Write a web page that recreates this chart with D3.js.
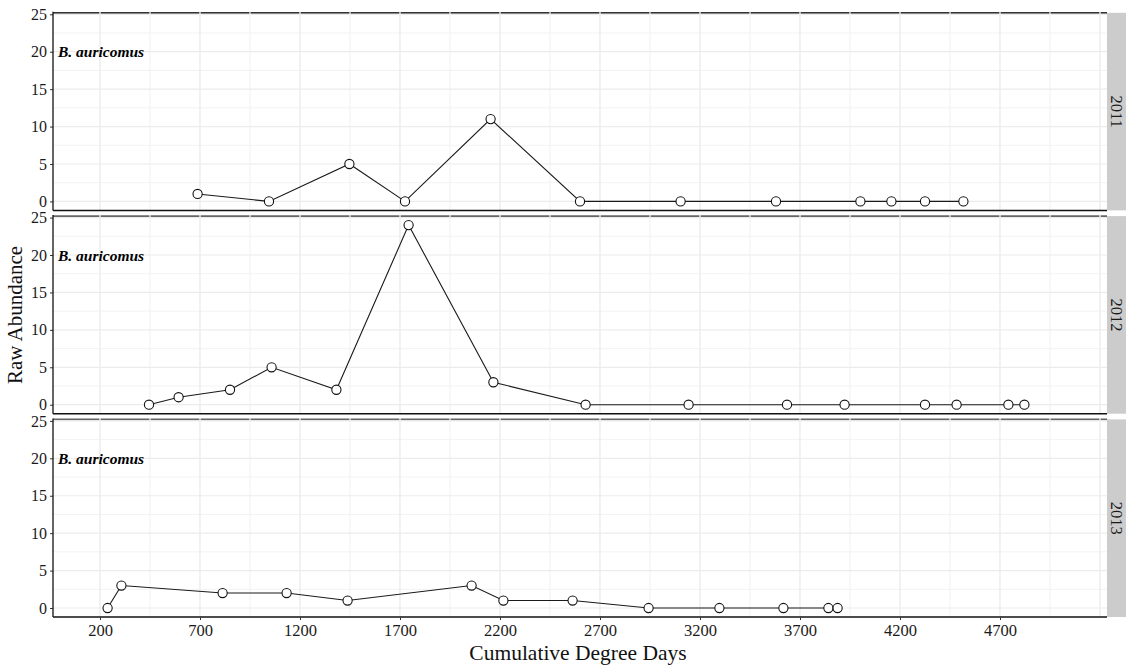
<!DOCTYPE html>
<html><head><meta charset="utf-8">
<script src="https://cdn.jsdelivr.net/npm/d3@7"></script>
<style>body{margin:0;background:#fff;} svg{display:block;font-family:"Liberation Serif","Times New Roman",serif;}</style>
</head><body>
<svg id="chart" width="1126" height="669"></svg>
<script>
const years = ["2011", "2012", "2013"];
const speciesLabel = "B. auricomus";
const dd2011 = [688, 1045, 1447, 1725, 2153, 2600, 3103, 3580, 4002, 4157, 4325, 4517];
const ab2011 = [1, 0, 5, 0, 11, 0, 0, 0, 0, 0, 0, 0];
const dd2012 = [445, 593, 850, 1058, 1382, 1743, 2167, 2628, 3143, 3635, 3923, 4325, 4483, 4742, 4822];
const ab2012 = [0, 1, 2, 5, 2, 24, 3, 0, 0, 0, 0, 0, 0, 0, 0];
const dd2013 = [238, 307, 813, 1133, 1438, 2058, 2217, 2563, 2943, 3297, 3617, 3842, 3888];
const ab2013 = [0, 3, 2, 2, 1, 3, 1, 1, 0, 0, 0, 0, 0];
const xTicks = [200, 700, 1200, 1700, 2200, 2700, 3200, 3700, 4200, 4700];
const xMajorGrid = [200, 700, 1200, 1700, 2200, 2700, 3200, 3700, 4200, 4700, 5200];
const xMinorGrid = [450, 950, 1450, 1950, 2450, 2950, 3450, 3950, 4450, 4950];
const yTicks = [0, 5, 10, 15, 20, 25];
const yMinorGrid = [2.5, 7.5, 12.5, 17.5, 22.5];
const xTitle = "Cumulative Degree Days";
const yTitle = "Raw Abundance";

const series = [
  {year: years[0], dd: dd2011, ab: ab2011},
  {year: years[1], dd: dd2012, ab: ab2012},
  {year: years[2], dd: dd2013, ab: ab2013}
];

const svg = d3.select("#chart");
const left = 53, right = 1107, stripRight = 1126;
const panelTop0 = 12.8, panelH = 197.6, panelStep = 203.3;

const x = d3.scaleLinear().domain([-35, 5235]).range([left, right]);

series.forEach((s, i) => {
  const top = panelTop0 + i * panelStep;
  const bottom = top + panelH;
  const y = d3.scaleLinear().domain([-1.2, 25.2]).range([bottom, top]);
  const g = svg.append("g");

  g.append("line").attr("x1", left).attr("x2", right).attr("y1", top).attr("y2", top)
    .attr("stroke", i === 0 ? "#333" : "#666").attr("stroke-width", 1.8);

  g.selectAll(".ymin").data(yMinorGrid).join("line")
    .attr("x1", left).attr("x2", right).attr("y1", d => y(d)).attr("y2", d => y(d))
    .attr("stroke", "#f3f3f3").attr("stroke-width", 1);
  g.selectAll(".xmin").data(xMinorGrid).join("line")
    .attr("x1", d => x(d)).attr("x2", d => x(d)).attr("y1", top - 1.5).attr("y2", bottom)
    .attr("stroke", "#f3f3f3").attr("stroke-width", 1.2);
  g.selectAll(".ymaj").data(yTicks).join("line")
    .attr("x1", left).attr("x2", right).attr("y1", d => y(d)).attr("y2", d => y(d))
    .attr("stroke", "#ececec").attr("stroke-width", 1.2);
  g.selectAll(".xmaj").data(xMajorGrid).join("line")
    .attr("x1", d => x(d)).attr("x2", d => x(d)).attr("y1", top - 1.5).attr("y2", bottom)
    .attr("stroke", "#ececec").attr("stroke-width", 1.4);

  const yAxis = d3.axisLeft(y).tickValues(yTicks).tickSize(3).tickPadding(3).tickFormat(d3.format("d"));
  const ya = g.append("g").attr("transform", `translate(${left},0)`).call(yAxis);
  ya.select(".domain").remove();
  ya.selectAll(".tick line").attr("stroke", "#333");
  ya.selectAll(".tick text").attr("font-size", 16).attr("fill", "#1a1a1a")
    .attr("font-family", "Liberation Serif, serif");
  g.append("line").attr("x1", left).attr("x2", left).attr("y1", top - 1).attr("y2", bottom)
    .attr("stroke", "#111").attr("stroke-width", 1.3);

  g.append("line").attr("x1", left).attr("x2", right).attr("y1", bottom).attr("y2", bottom)
    .attr("stroke", "#111").attr("stroke-width", 1.5);

  if (i === series.length - 1) {
    const xAxis = d3.axisBottom(x).tickValues(xTicks).tickSize(3).tickPadding(4).tickFormat(d3.format("d"));
    const xa = g.append("g").attr("transform", `translate(0,${bottom})`).call(xAxis);
    xa.select(".domain").remove();
    xa.selectAll(".tick line").attr("stroke", "#333");
    xa.selectAll(".tick text").attr("font-size", 16.5).attr("fill", "#1a1a1a")
      .attr("font-family", "Liberation Serif, serif");
  }

  g.append("rect").attr("x", right).attr("y", top).attr("width", stripRight - right).attr("height", panelH)
    .attr("fill", "#cccccc");
  const sy = (top + bottom) / 2;
  g.append("text").attr("transform", `translate(${(right + stripRight) / 2},${sy}) rotate(90)`)
    .attr("text-anchor", "middle").attr("dominant-baseline", "central")
    .attr("font-size", 16.5).attr("fill", "#1a1a1a").text(s.year);

  g.append("text").attr("x", x(-10)).attr("y", y(20)).attr("dominant-baseline", "central")
    .attr("font-size", 15.5).attr("font-style", "italic").attr("font-weight", "bold")
    .attr("fill", "#000").text(speciesLabel);

  const pts = s.dd.map((d, k) => [d, s.ab[k]]);
  const line = d3.line().x(d => x(d[0])).y(d => y(d[1]));
  g.append("path").attr("d", line(pts)).attr("fill", "none").attr("stroke", "#1a1a1a").attr("stroke-width", 1.1);
  g.selectAll("circle").data(pts).join("circle")
    .attr("cx", d => x(d[0])).attr("cy", d => y(d[1])).attr("r", 4.6)
    .attr("fill", "#fff").attr("stroke", "#111").attr("stroke-width", 1.1);
});

svg.append("text").attr("x", 578).attr("y", 660)
  .attr("text-anchor", "middle").attr("font-size", 21.5).attr("fill", "#111").text(xTitle);
svg.append("text").attr("transform", `translate(22,315) rotate(-90)`)
  .attr("text-anchor", "middle").attr("font-size", 21).attr("fill", "#111").text(yTitle);
</script>
</body></html>
